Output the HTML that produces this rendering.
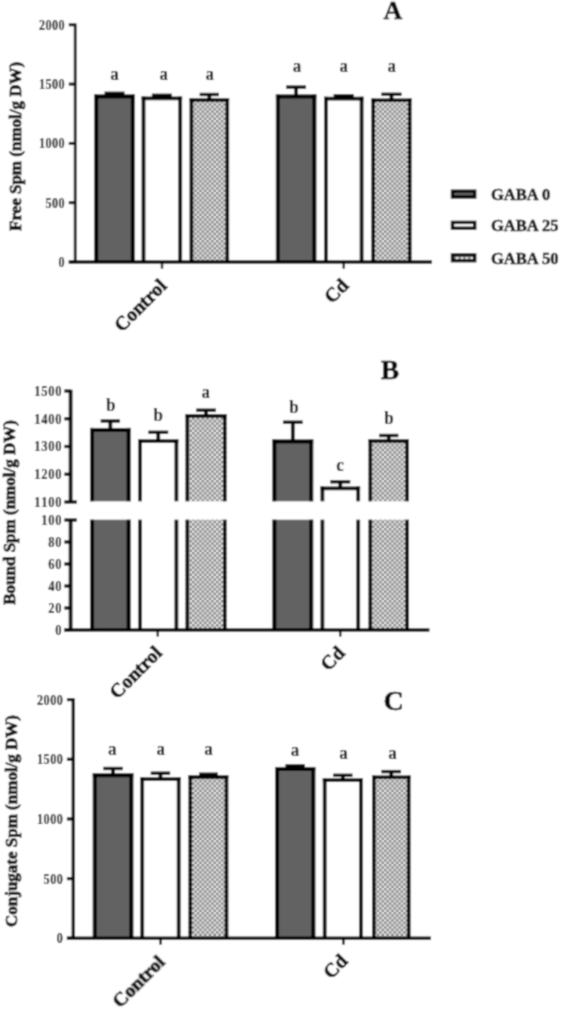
<!DOCTYPE html>
<html><head><meta charset="utf-8"><title>Spm chart</title>
<style>
html,body{margin:0;padding:0;background:#fff;}
body{width:561px;height:1009px;overflow:hidden;}
svg{display:block;font-family:"Liberation Serif",serif;}
text{stroke:#000;stroke-linejoin:round;}
.yl{stroke-width:0.7px} .xl{stroke-width:0.7px} .tk{stroke-width:0.1px}
.lt{stroke-width:0.1px} .lg{stroke-width:0.5px} .ti{stroke-width:0.5px}
</style></head><body>
<svg width="561" height="1009" viewBox="0 0 561 1009">
<defs>
<pattern id="chk" width="4.8" height="4.8" patternUnits="userSpaceOnUse">
<rect width="4.8" height="4.8" fill="#f2f2f2"/>
<rect width="2.4" height="2.4" fill="#747474"/>
<rect x="2.4" y="2.4" width="2.4" height="2.4" fill="#747474"/>
</pattern>
</defs>
<filter id="bl" x="0" y="0" width="561" height="1009" filterUnits="userSpaceOnUse"><feConvolveMatrix order="5" kernelMatrix="0.00082 0.01174 0.02857 0.01174 0.00082 0.01174 0.16901 0.41111 0.16901 0.01174 0.02857 0.41111 1.00000 0.41111 0.02857 0.01174 0.16901 0.41111 0.16901 0.01174 0.00082 0.01174 0.02857 0.01174 0.00082" edgeMode="duplicate" preserveAlpha="true"/></filter>
<rect width="561" height="1009" fill="#fff"/>
<g filter="url(#bl)">
<rect width="561" height="1009" fill="#fff"/>
<path d="M75.20 262.00V23.50" stroke="#000" stroke-width="2.8" fill="none"/>
<path d="M68.80 262.00H75.20" stroke="#000" stroke-width="3.0" fill="none"/>
<text class="tk" transform="translate(64.90 266.90) scale(1 1.14)" font-size="12.2" text-anchor="end" font-weight="bold" letter-spacing="0.4" style="font-kerning:none">0</text>
<path d="M68.80 202.70H75.20" stroke="#000" stroke-width="3.0" fill="none"/>
<text class="tk" transform="translate(64.90 207.60) scale(1 1.14)" font-size="12.2" text-anchor="end" font-weight="bold" letter-spacing="0.4" style="font-kerning:none">500</text>
<path d="M68.80 143.40H75.20" stroke="#000" stroke-width="3.0" fill="none"/>
<text class="tk" transform="translate(64.90 148.30) scale(1 1.14)" font-size="12.2" text-anchor="end" font-weight="bold" letter-spacing="0.4" style="font-kerning:none">1000</text>
<path d="M68.80 84.10H75.20" stroke="#000" stroke-width="3.0" fill="none"/>
<text class="tk" transform="translate(64.90 89.00) scale(1 1.14)" font-size="12.2" text-anchor="end" font-weight="bold" letter-spacing="0.4" style="font-kerning:none">1500</text>
<path d="M68.80 24.80H75.20" stroke="#000" stroke-width="3.0" fill="none"/>
<text class="tk" transform="translate(64.90 29.70) scale(1 1.14)" font-size="12.2" text-anchor="end" font-weight="bold" letter-spacing="0.4" style="font-kerning:none">2000</text>
<rect x="94.30" y="94.40" width="40.50" height="167.60" fill="#626262"/>
<path d="M96.30 262.00V94.40" stroke="#000" stroke-width="4.0" fill="none"/>
<path d="M132.80 262.00V94.40" stroke="#000" stroke-width="4.0" fill="none"/>
<path d="M94.30 96.40H134.80" stroke="#000" stroke-width="4.0" fill="none"/>
<path d="M114.55 95.40V93.30" stroke="#000" stroke-width="3.8" fill="none"/>
<path d="M104.55 93.30H124.55" stroke="#000" stroke-width="3.4" fill="none"/>
<rect x="141.60" y="96.40" width="40.50" height="165.60" fill="#fff"/>
<path d="M143.50 262.00V96.40" stroke="#000" stroke-width="3.8" fill="none"/>
<path d="M180.20 262.00V96.40" stroke="#000" stroke-width="3.8" fill="none"/>
<path d="M141.60 98.30H182.10" stroke="#000" stroke-width="3.8" fill="none"/>
<path d="M161.85 97.40V95.30" stroke="#000" stroke-width="3.8" fill="none"/>
<path d="M151.85 95.30H171.85" stroke="#000" stroke-width="3.4" fill="none"/>
<rect x="189.60" y="98.20" width="39.50" height="163.80" fill="url(#chk)"/>
<path d="M191.40 262.00V98.20" stroke="#000" stroke-width="3.6" fill="none"/>
<path d="M227.30 262.00V98.20" stroke="#000" stroke-width="3.6" fill="none"/>
<path d="M189.60 100.00H229.10" stroke="#000" stroke-width="3.6" fill="none"/>
<path d="M209.35 99.20V94.50" stroke="#000" stroke-width="3.8" fill="none"/>
<path d="M199.70 94.50H219.00" stroke="#000" stroke-width="3.4" fill="none"/>
<rect x="275.90" y="94.60" width="40.40" height="167.40" fill="#626262"/>
<path d="M277.90 262.00V94.60" stroke="#000" stroke-width="4.0" fill="none"/>
<path d="M314.30 262.00V94.60" stroke="#000" stroke-width="4.0" fill="none"/>
<path d="M275.90 96.60H316.30" stroke="#000" stroke-width="4.0" fill="none"/>
<path d="M296.10 95.60V87.10" stroke="#000" stroke-width="3.8" fill="none"/>
<path d="M286.15 87.10H306.05" stroke="#000" stroke-width="3.4" fill="none"/>
<rect x="324.00" y="96.80" width="39.50" height="165.20" fill="#fff"/>
<path d="M325.90 262.00V96.80" stroke="#000" stroke-width="3.8" fill="none"/>
<path d="M361.60 262.00V96.80" stroke="#000" stroke-width="3.8" fill="none"/>
<path d="M324.00 98.70H363.50" stroke="#000" stroke-width="3.8" fill="none"/>
<path d="M343.75 97.80V95.70" stroke="#000" stroke-width="3.8" fill="none"/>
<path d="M333.65 95.70H353.85" stroke="#000" stroke-width="3.4" fill="none"/>
<rect x="371.40" y="98.40" width="40.10" height="163.60" fill="url(#chk)"/>
<path d="M373.20 262.00V98.40" stroke="#000" stroke-width="3.6" fill="none"/>
<path d="M409.70 262.00V98.40" stroke="#000" stroke-width="3.6" fill="none"/>
<path d="M371.40 100.20H411.50" stroke="#000" stroke-width="3.6" fill="none"/>
<path d="M391.45 99.40V94.30" stroke="#000" stroke-width="3.8" fill="none"/>
<path d="M381.35 94.30H401.55" stroke="#000" stroke-width="3.4" fill="none"/>
<text class="lt" transform="translate(114.55 80.00) scale(1 1.08)" font-size="17" text-anchor="middle" font-weight="bold" >a</text>
<text class="lt" transform="translate(163.65 80.00) scale(1 1.08)" font-size="17" text-anchor="middle" font-weight="bold" >a</text>
<text class="lt" transform="translate(209.65 80.00) scale(1 1.08)" font-size="17" text-anchor="middle" font-weight="bold" >a</text>
<text class="lt" transform="translate(297.10 71.80) scale(1 1.08)" font-size="17" text-anchor="middle" font-weight="bold" >a</text>
<text class="lt" transform="translate(343.85 71.80) scale(1 1.08)" font-size="17" text-anchor="middle" font-weight="bold" >a</text>
<text class="lt" transform="translate(391.75 71.80) scale(1 1.08)" font-size="17" text-anchor="middle" font-weight="bold" >a</text>
<path d="M68.80 262.00H432" stroke="#000" stroke-width="3.6" fill="none"/>
<path d="M162.00 262.00V268.60" stroke="#000" stroke-width="2.4" fill="none"/>
<path d="M343.80 262.00V268.60" stroke="#000" stroke-width="2.4" fill="none"/>
<text class="ti" x="393.00" y="18.60" font-size="26" text-anchor="middle" font-weight="bold" >A</text>
<text class="yl" transform="translate(20.70 231.00) rotate(-90)" font-size="17.0" text-anchor="start" font-weight="bold">Free Spm (nmol/g DW)</text>
<text class="xl" transform="translate(167.80 287.00) rotate(-45)" font-size="19.5" text-anchor="end" font-weight="bold">Control</text>
<text class="xl" transform="translate(349.70 286.50) rotate(-45)" font-size="19.5" text-anchor="end" font-weight="bold">Cd</text>
<rect x="452.50" y="191.20" width="22.20" height="5.80" fill="#626262" stroke="#000" stroke-width="3.4"/>
<text class="lg" x="491.00" y="199.50" font-size="16.5" text-anchor="start" font-weight="bold" >GABA 0</text>
<rect x="452.50" y="222.40" width="22.20" height="5.80" fill="#fff" stroke="#000" stroke-width="3.4"/>
<text class="lg" x="491.00" y="230.70" font-size="16.5" text-anchor="start" font-weight="bold" >GABA 25</text>
<rect x="452.50" y="254.90" width="22.20" height="5.80" fill="url(#chk)" stroke="#000" stroke-width="3.4"/>
<text class="lg" x="491.00" y="264.00" font-size="16.5" text-anchor="start" font-weight="bold" >GABA 50</text>
<path d="M70.60 502.00V389.70" stroke="#000" stroke-width="3.8" fill="none"/>
<path d="M64.40 391.00H70.60" stroke="#000" stroke-width="3.3" fill="none"/>
<text class="tk" transform="translate(62.20 395.90) scale(1 1.14)" font-size="12.6" text-anchor="end" font-weight="bold" letter-spacing="0.7" style="font-kerning:none">1500</text>
<path d="M64.40 418.75H70.60" stroke="#000" stroke-width="3.3" fill="none"/>
<text class="tk" transform="translate(62.20 423.65) scale(1 1.14)" font-size="12.6" text-anchor="end" font-weight="bold" letter-spacing="0.7" style="font-kerning:none">1400</text>
<path d="M64.40 446.50H70.60" stroke="#000" stroke-width="3.3" fill="none"/>
<text class="tk" transform="translate(62.20 451.40) scale(1 1.14)" font-size="12.6" text-anchor="end" font-weight="bold" letter-spacing="0.7" style="font-kerning:none">1300</text>
<path d="M64.40 474.25H70.60" stroke="#000" stroke-width="3.3" fill="none"/>
<text class="tk" transform="translate(62.20 479.15) scale(1 1.14)" font-size="12.6" text-anchor="end" font-weight="bold" letter-spacing="0.7" style="font-kerning:none">1200</text>
<path d="M64.40 502.00H76.80" stroke="#000" stroke-width="3.3" fill="none"/>
<text class="tk" transform="translate(62.20 506.90) scale(1 1.14)" font-size="12.6" text-anchor="end" font-weight="bold" letter-spacing="0.7" style="font-kerning:none">1100</text>
<path d="M70.60 630.00V520.00" stroke="#000" stroke-width="3.8" fill="none"/>
<path d="M64.40 520.00H76.80" stroke="#000" stroke-width="3.3" fill="none"/>
<text class="tk" transform="translate(62.20 524.90) scale(1 1.14)" font-size="12.6" text-anchor="end" font-weight="bold" letter-spacing="0.7" style="font-kerning:none">100</text>
<path d="M64.40 542.00H70.60" stroke="#000" stroke-width="3.3" fill="none"/>
<text class="tk" transform="translate(62.20 546.90) scale(1 1.14)" font-size="12.6" text-anchor="end" font-weight="bold" letter-spacing="0.7" style="font-kerning:none">80</text>
<path d="M64.40 564.00H70.60" stroke="#000" stroke-width="3.3" fill="none"/>
<text class="tk" transform="translate(62.20 568.90) scale(1 1.14)" font-size="12.6" text-anchor="end" font-weight="bold" letter-spacing="0.7" style="font-kerning:none">60</text>
<path d="M64.40 586.00H70.60" stroke="#000" stroke-width="3.3" fill="none"/>
<text class="tk" transform="translate(62.20 590.90) scale(1 1.14)" font-size="12.6" text-anchor="end" font-weight="bold" letter-spacing="0.7" style="font-kerning:none">40</text>
<path d="M64.40 608.00H70.60" stroke="#000" stroke-width="3.3" fill="none"/>
<text class="tk" transform="translate(62.20 612.90) scale(1 1.14)" font-size="12.6" text-anchor="end" font-weight="bold" letter-spacing="0.7" style="font-kerning:none">20</text>
<path d="M64.40 630.00H70.60" stroke="#000" stroke-width="3.3" fill="none"/>
<text class="tk" transform="translate(62.20 634.90) scale(1 1.14)" font-size="12.6" text-anchor="end" font-weight="bold" letter-spacing="0.7" style="font-kerning:none">0</text>
<rect x="90.10" y="427.90" width="40.50" height="73.40" fill="#626262"/>
<path d="M92.10 501.30V427.90" stroke="#000" stroke-width="4.0" fill="none"/>
<path d="M128.60 501.30V427.90" stroke="#000" stroke-width="4.0" fill="none"/>
<path d="M90.10 429.90H130.60" stroke="#000" stroke-width="4.0" fill="none"/>
<path d="M110.35 428.90V421.00" stroke="#000" stroke-width="3.8" fill="none"/>
<path d="M100.70 421.00H120.00" stroke="#000" stroke-width="3.4" fill="none"/>
<rect x="90.10" y="519.70" width="40.50" height="110.30" fill="#626262"/>
<path d="M92.10 630.00V519.70" stroke="#000" stroke-width="4.0" fill="none"/>
<path d="M128.60 630.00V519.70" stroke="#000" stroke-width="4.0" fill="none"/>
<rect x="138.20" y="439.30" width="40.10" height="62.00" fill="#fff"/>
<path d="M140.10 501.30V439.30" stroke="#000" stroke-width="3.8" fill="none"/>
<path d="M176.40 501.30V439.30" stroke="#000" stroke-width="3.8" fill="none"/>
<path d="M138.20 441.20H178.30" stroke="#000" stroke-width="3.8" fill="none"/>
<path d="M158.25 440.30V432.30" stroke="#000" stroke-width="3.8" fill="none"/>
<path d="M148.30 432.30H168.20" stroke="#000" stroke-width="3.4" fill="none"/>
<rect x="138.20" y="519.70" width="40.10" height="110.30" fill="#fff"/>
<path d="M140.10 630.00V519.70" stroke="#000" stroke-width="3.8" fill="none"/>
<path d="M176.40 630.00V519.70" stroke="#000" stroke-width="3.8" fill="none"/>
<rect x="185.50" y="414.10" width="41.10" height="87.20" fill="url(#chk)"/>
<path d="M187.30 501.30V414.10" stroke="#000" stroke-width="3.6" fill="none"/>
<path d="M224.80 501.30V414.10" stroke="#000" stroke-width="3.6" fill="none"/>
<path d="M185.50 415.90H226.60" stroke="#000" stroke-width="3.6" fill="none"/>
<path d="M206.05 415.10V410.20" stroke="#000" stroke-width="3.8" fill="none"/>
<path d="M196.20 410.20H215.90" stroke="#000" stroke-width="3.4" fill="none"/>
<rect x="185.50" y="519.70" width="41.10" height="110.30" fill="url(#chk)"/>
<path d="M187.30 630.00V519.70" stroke="#000" stroke-width="3.6" fill="none"/>
<path d="M224.80 630.00V519.70" stroke="#000" stroke-width="3.6" fill="none"/>
<rect x="272.40" y="439.50" width="40.80" height="61.80" fill="#626262"/>
<path d="M274.40 501.30V439.50" stroke="#000" stroke-width="4.0" fill="none"/>
<path d="M311.20 501.30V439.50" stroke="#000" stroke-width="4.0" fill="none"/>
<path d="M272.40 441.50H313.20" stroke="#000" stroke-width="4.0" fill="none"/>
<path d="M292.80 440.50V422.20" stroke="#000" stroke-width="3.8" fill="none"/>
<path d="M282.95 422.20H302.65" stroke="#000" stroke-width="3.4" fill="none"/>
<rect x="272.40" y="519.70" width="40.80" height="110.30" fill="#626262"/>
<path d="M274.40 630.00V519.70" stroke="#000" stroke-width="4.0" fill="none"/>
<path d="M311.20 630.00V519.70" stroke="#000" stroke-width="4.0" fill="none"/>
<rect x="320.50" y="486.40" width="39.60" height="14.90" fill="#fff"/>
<path d="M322.40 501.30V486.40" stroke="#000" stroke-width="3.8" fill="none"/>
<path d="M358.20 501.30V486.40" stroke="#000" stroke-width="3.8" fill="none"/>
<path d="M320.50 488.30H360.10" stroke="#000" stroke-width="3.8" fill="none"/>
<path d="M340.30 487.40V481.80" stroke="#000" stroke-width="3.8" fill="none"/>
<path d="M330.35 481.80H350.25" stroke="#000" stroke-width="3.4" fill="none"/>
<rect x="320.50" y="519.70" width="39.60" height="110.30" fill="#fff"/>
<path d="M322.40 630.00V519.70" stroke="#000" stroke-width="3.8" fill="none"/>
<path d="M358.20 630.00V519.70" stroke="#000" stroke-width="3.8" fill="none"/>
<rect x="368.50" y="439.20" width="40.40" height="62.10" fill="url(#chk)"/>
<path d="M370.30 501.30V439.20" stroke="#000" stroke-width="3.6" fill="none"/>
<path d="M407.10 501.30V439.20" stroke="#000" stroke-width="3.6" fill="none"/>
<path d="M368.50 441.00H408.90" stroke="#000" stroke-width="3.6" fill="none"/>
<path d="M388.70 440.20V435.50" stroke="#000" stroke-width="3.8" fill="none"/>
<path d="M379.05 435.50H398.35" stroke="#000" stroke-width="3.4" fill="none"/>
<rect x="368.50" y="519.70" width="40.40" height="110.30" fill="url(#chk)"/>
<path d="M370.30 630.00V519.70" stroke="#000" stroke-width="3.6" fill="none"/>
<path d="M407.10 630.00V519.70" stroke="#000" stroke-width="3.6" fill="none"/>
<text class="lt" transform="translate(110.65 411.30) scale(1 1.08)" font-size="17" text-anchor="middle" font-weight="bold" >b</text>
<text class="lt" transform="translate(158.15 421.30) scale(1 1.08)" font-size="17" text-anchor="middle" font-weight="bold" >b</text>
<text class="lt" transform="translate(205.85 398.30) scale(1 1.08)" font-size="17" text-anchor="middle" font-weight="bold" >a</text>
<text class="lt" transform="translate(294.10 412.80) scale(1 1.08)" font-size="17" text-anchor="middle" font-weight="bold" >b</text>
<text class="lt" transform="translate(340.00 471.30) scale(1 1.08)" font-size="17" text-anchor="middle" font-weight="bold" >c</text>
<text class="lt" transform="translate(388.90 424.00) scale(1 1.08)" font-size="17" text-anchor="middle" font-weight="bold" >b</text>
<path d="M64.40 630H429.4" stroke="#000" stroke-width="3.4" fill="none"/>
<path d="M157.80 630V636.5" stroke="#000" stroke-width="2.4" fill="none"/>
<path d="M340.20 630V636.5" stroke="#000" stroke-width="2.4" fill="none"/>
<text class="ti" x="390.00" y="379.00" font-size="27.5" text-anchor="middle" font-weight="bold" >B</text>
<text class="yl" transform="translate(15.00 604.80) rotate(-90)" font-size="17.0" text-anchor="start" font-weight="bold">Bound Spm (nmol/g DW)</text>
<text class="xl" transform="translate(163.00 654.00) rotate(-45)" font-size="19.5" text-anchor="end" font-weight="bold">Control</text>
<text class="xl" transform="translate(346.00 654.00) rotate(-45)" font-size="19.5" text-anchor="end" font-weight="bold">Cd</text>
<path d="M73.30 938.30V698.30" stroke="#000" stroke-width="3.4" fill="none"/>
<path d="M66.90 938.30H73.30" stroke="#000" stroke-width="3.2" fill="none"/>
<text class="tk" transform="translate(63.40 943.20) scale(1 1.14)" font-size="12.2" text-anchor="end" font-weight="bold" letter-spacing="0.5" style="font-kerning:none">0</text>
<path d="M66.90 878.62H73.30" stroke="#000" stroke-width="3.2" fill="none"/>
<text class="tk" transform="translate(63.40 883.52) scale(1 1.14)" font-size="12.2" text-anchor="end" font-weight="bold" letter-spacing="0.5" style="font-kerning:none">500</text>
<path d="M66.90 818.95H73.30" stroke="#000" stroke-width="3.2" fill="none"/>
<text class="tk" transform="translate(63.40 823.85) scale(1 1.14)" font-size="12.2" text-anchor="end" font-weight="bold" letter-spacing="0.5" style="font-kerning:none">1000</text>
<path d="M66.90 759.27H73.30" stroke="#000" stroke-width="3.2" fill="none"/>
<text class="tk" transform="translate(63.40 764.17) scale(1 1.14)" font-size="12.2" text-anchor="end" font-weight="bold" letter-spacing="0.5" style="font-kerning:none">1500</text>
<path d="M66.90 699.60H73.30" stroke="#000" stroke-width="3.2" fill="none"/>
<text class="tk" transform="translate(63.40 704.50) scale(1 1.14)" font-size="12.2" text-anchor="end" font-weight="bold" letter-spacing="0.5" style="font-kerning:none">2000</text>
<rect x="92.80" y="773.30" width="40.50" height="165.00" fill="#626262"/>
<path d="M94.80 938.30V773.30" stroke="#000" stroke-width="4.0" fill="none"/>
<path d="M131.30 938.30V773.30" stroke="#000" stroke-width="4.0" fill="none"/>
<path d="M92.80 775.30H133.30" stroke="#000" stroke-width="4.0" fill="none"/>
<path d="M113.05 774.30V768.50" stroke="#000" stroke-width="3.8" fill="none"/>
<path d="M103.35 768.50H122.75" stroke="#000" stroke-width="3.4" fill="none"/>
<rect x="140.30" y="777.30" width="40.30" height="161.00" fill="#fff"/>
<path d="M142.20 938.30V777.30" stroke="#000" stroke-width="3.8" fill="none"/>
<path d="M178.70 938.30V777.30" stroke="#000" stroke-width="3.8" fill="none"/>
<path d="M140.30 779.20H180.60" stroke="#000" stroke-width="3.8" fill="none"/>
<path d="M160.45 778.30V773.20" stroke="#000" stroke-width="3.8" fill="none"/>
<path d="M150.75 773.20H170.15" stroke="#000" stroke-width="3.4" fill="none"/>
<rect x="188.50" y="775.30" width="39.80" height="163.00" fill="url(#chk)"/>
<path d="M190.30 938.30V775.30" stroke="#000" stroke-width="3.6" fill="none"/>
<path d="M226.50 938.30V775.30" stroke="#000" stroke-width="3.6" fill="none"/>
<path d="M188.50 777.10H228.30" stroke="#000" stroke-width="3.6" fill="none"/>
<path d="M208.40 776.30V774.20" stroke="#000" stroke-width="3.8" fill="none"/>
<path d="M199.00 774.20H217.80" stroke="#000" stroke-width="3.4" fill="none"/>
<rect x="275.10" y="766.90" width="40.20" height="171.40" fill="#626262"/>
<path d="M277.10 938.30V766.90" stroke="#000" stroke-width="4.0" fill="none"/>
<path d="M313.30 938.30V766.90" stroke="#000" stroke-width="4.0" fill="none"/>
<path d="M275.10 768.90H315.30" stroke="#000" stroke-width="4.0" fill="none"/>
<path d="M295.20 767.90V765.80" stroke="#000" stroke-width="3.8" fill="none"/>
<path d="M285.45 765.80H304.95" stroke="#000" stroke-width="3.4" fill="none"/>
<rect x="322.80" y="778.20" width="40.00" height="160.10" fill="#fff"/>
<path d="M324.70 938.30V778.20" stroke="#000" stroke-width="3.8" fill="none"/>
<path d="M360.90 938.30V778.20" stroke="#000" stroke-width="3.8" fill="none"/>
<path d="M322.80 780.10H362.80" stroke="#000" stroke-width="3.8" fill="none"/>
<path d="M342.80 779.20V775.30" stroke="#000" stroke-width="3.8" fill="none"/>
<path d="M333.15 775.30H352.45" stroke="#000" stroke-width="3.4" fill="none"/>
<rect x="372.00" y="775.50" width="38.50" height="162.80" fill="url(#chk)"/>
<path d="M373.80 938.30V775.50" stroke="#000" stroke-width="3.6" fill="none"/>
<path d="M408.70 938.30V775.50" stroke="#000" stroke-width="3.6" fill="none"/>
<path d="M372.00 777.30H410.50" stroke="#000" stroke-width="3.6" fill="none"/>
<path d="M391.25 776.50V771.60" stroke="#000" stroke-width="3.8" fill="none"/>
<path d="M381.45 771.60H401.05" stroke="#000" stroke-width="3.4" fill="none"/>
<text class="lt" transform="translate(112.15 754.60) scale(1 1.08)" font-size="17" text-anchor="middle" font-weight="bold" >a</text>
<text class="lt" transform="translate(160.85 754.60) scale(1 1.08)" font-size="17" text-anchor="middle" font-weight="bold" >a</text>
<text class="lt" transform="translate(208.50 754.60) scale(1 1.08)" font-size="17" text-anchor="middle" font-weight="bold" >a</text>
<text class="lt" transform="translate(295.00 756.00) scale(1 1.08)" font-size="17" text-anchor="middle" font-weight="bold" >a</text>
<text class="lt" transform="translate(343.40 758.80) scale(1 1.08)" font-size="17" text-anchor="middle" font-weight="bold" >a</text>
<text class="lt" transform="translate(392.45 758.80) scale(1 1.08)" font-size="17" text-anchor="middle" font-weight="bold" >a</text>
<path d="M66.90 938.30H431" stroke="#000" stroke-width="3.6" fill="none"/>
<path d="M160.60 938.30V944.60" stroke="#000" stroke-width="2.4" fill="none"/>
<path d="M343.40 938.30V944.60" stroke="#000" stroke-width="2.4" fill="none"/>
<text class="ti" x="393.60" y="709.80" font-size="28" text-anchor="middle" font-weight="bold" >C</text>
<text class="yl" transform="translate(17.20 927.00) rotate(-90)" font-size="17.0" text-anchor="start" font-weight="bold">Conjugate Spm (nmol/g DW)</text>
<text class="xl" transform="translate(166.00 963.00) rotate(-45)" font-size="19.5" text-anchor="end" font-weight="bold">Control</text>
<text class="xl" transform="translate(348.70 962.00) rotate(-45)" font-size="19.5" text-anchor="end" font-weight="bold">Cd</text>
</g>
</svg>
</body></html>
